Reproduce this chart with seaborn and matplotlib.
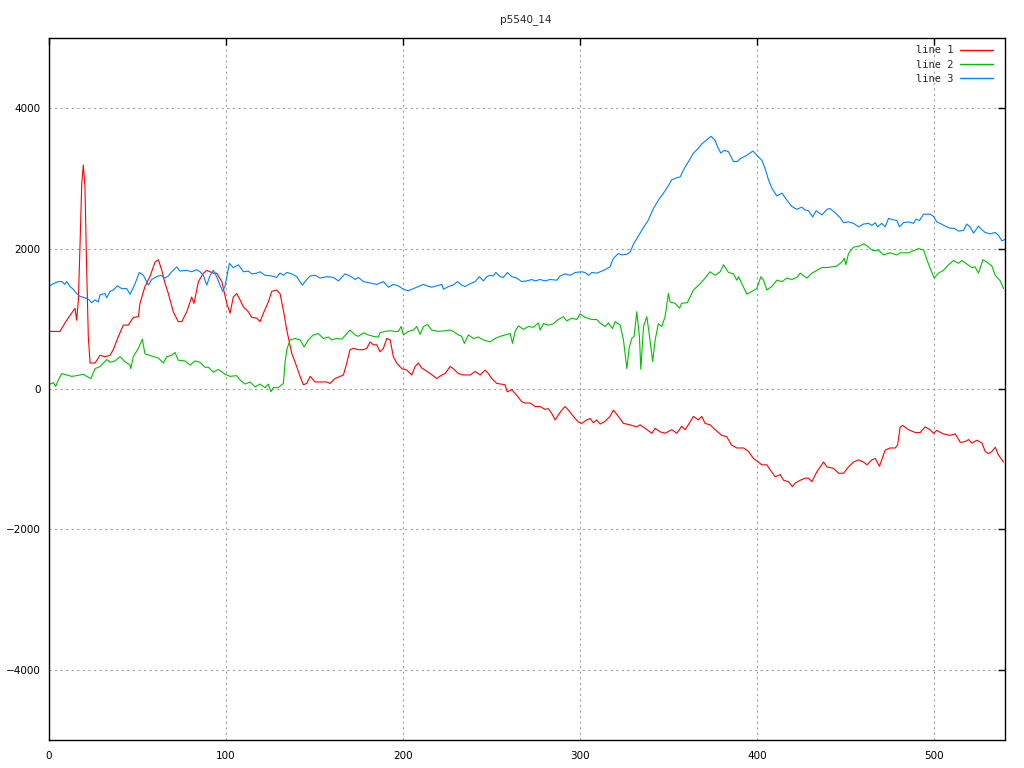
import numpy as np
import pandas as pd
import matplotlib
matplotlib.use("Agg")
import matplotlib.pyplot as plt
import seaborn as sns

title = "p5540_14"
series_names = ["line 1", "line 2", "line 3"]
series_colors = ["#ff0000", "#00c000", "#0080ff"]
x_ticks = [0, 100, 200, 300, 400, 500]
y_ticks = [-4000, -2000, 0, 2000, 4000]

# line 1 (red)
x1 = [0.6, 6.2, 9, 11.9, 14.7, 15.6, 16.6, 17.5, 18.5, 19.4, 20.3, 21.3, 22.2, 23.2, 26, 28.8, 31.6, 34.5,
      36.3, 39.2, 42, 44.8, 47.6, 50.5, 51.4, 54.2, 57, 59.9, 61.8, 63.7, 65.5, 67.4, 70.2, 73, 75, 77.8,
      80.6, 81.9, 84.4, 87.2, 89.1, 92.8, 94.7, 97.6, 100.4, 102.3, 104.1, 106, 107.9, 109.8, 112.6, 114.5,
      117.3, 119.2, 121.1, 123.9, 125.8, 128.6, 130.5, 132.4, 134.3, 137.1, 139.9, 141.8, 143.7, 145.6,
      147.5, 150.3, 153.1, 156.9, 158.8, 161.6, 164.4, 166.3, 168.2, 170, 171.9, 174.7, 177.6, 179.5,
      181.4, 183.2, 185.1, 187, 188.9, 190.8, 192.7, 194.5, 196.4, 199.3, 202.1, 204.9, 206.8, 208.6,
      210.6, 212.4, 215.3, 219, 221.9, 223.7, 226.6, 228.4, 231.2, 234.1, 237.9, 240.7, 243.5, 246.3,
      248.2, 250.1, 252.9, 257.6, 258.9, 261.4, 264.2, 267, 268.9, 271.8, 274.6, 277.4, 280.2, 282.1,
      284, 285.9, 287.7, 289.7, 291.5, 293.4, 296.2, 299, 300.9, 303.8, 305.6, 307.5, 309.4, 311.3,
      314.1, 316.9, 318.8, 321.6, 324.5, 328.2, 332, 333.9, 336.7, 340.5, 342.4, 345.2, 348, 351.8,
      354.6, 357.4, 359.3, 362.1, 364, 366.8, 368.7, 370.6, 373.4, 376.3, 380, 382.8, 385.6, 388.5,
      392.3, 395.1, 397.9, 400.7, 402.6, 405.5, 407.3, 410.2, 413, 414.9, 417.7, 419.9, 421.5, 424.3,
      427.1, 429, 430.9, 433.7, 437.5, 439.4, 443.1, 446, 448.8, 451.6, 454.4, 457.3, 460.1, 462, 464.8,
      466.7, 469.1, 472.3, 475.1, 478, 479.3, 480.8, 482.3, 485.5, 489.3, 492.1, 494.9, 497.7, 499.6,
      501.5, 505.2, 509, 511.9, 514.7, 517.5, 519.4, 521.3, 524.1, 527, 528.8, 530.7, 532.6, 534.5,
      536.3, 539.2]
y1 = [820, 820, 940, 1050, 1150, 980, 1270, 2030, 2930, 3190, 2880, 1690, 750, 370, 370, 480, 460, 480,
      560, 750, 910, 910, 1020, 1030, 1220, 1460, 1600, 1810, 1840, 1690, 1510, 1360, 1100, 960, 960, 1100,
      1310, 1220, 1530, 1650, 1690, 1650, 1650, 1530, 1220, 1080, 1310, 1360, 1270, 1170, 1100, 1020,
      1010, 960, 1080, 1240, 1390, 1410, 1360, 1120, 840, 510, 320, 180, 60, 80,
      180, 100, 100, 100, 80, 150, 180, 200, 370, 560, 580, 560, 560, 580,
      670, 630, 630, 530, 580, 720, 700, 460, 370, 290, 270, 200, 320, 370,
      300, 270, 220, 150, 200, 220, 320, 290, 220, 200, 200, 250, 200, 270,
      220, 150, 80, 60, -40, -10, -90, -180, -200, -200, -250, -250, -290, -280,
      -350, -440, -370, -300, -250, -300, -390, -470, -490, -440, -420, -480, -440, -500,
      -460, -390, -300, -390, -490, -510, -540, -510, -560, -630, -560, -610, -630, -580,
      -630, -530, -580, -470, -390, -440, -390, -490, -510, -580, -660, -680, -800, -840,
      -840, -890, -990, -1040, -1080, -1080, -1150, -1250, -1220, -1300, -1320, -1390, -1340, -1300,
      -1270, -1270, -1320, -1180, -1040, -1110, -1130, -1200, -1200, -1110, -1040, -1010, -1040, -1080, -1010,
      -990, -1100, -870, -840, -840, -800, -540, -520, -580, -620, -620, -540, -580, -630,
      -590, -640, -660, -640, -760, -750, -720, -770, -730, -770, -890, -920, -890, -830,
      -940, -1040]

# line 2 (green)
x2 = [0.6, 2.4, 3.8, 5.3, 7.2, 10, 12.8, 15.6, 19.4, 21.3, 23.7, 26, 28.8, 30.7, 32.6, 34.5, 37.3, 40.1,
      42.9, 45.8, 46.2, 47.6, 50.5, 52.7, 54.2, 58, 61.8, 64.6, 66.5, 69.3, 71.2, 73, 76.8, 79.7, 82.5,
      85.3, 88.1, 90, 92.8, 95.6, 99.4, 102.3, 106, 107.9, 110.7, 113.6, 116.4, 119.2, 122, 123.9, 125.3,
      126.7, 129.5, 132.4, 133.3, 134.3, 136.2, 139, 141.8, 144.1, 146.5, 149.3, 152.1, 155, 157.8, 159.7,
      162.5, 165.4, 168.2, 170, 172.9, 174.7, 177.6, 180.4, 183.2, 186, 187, 189.8, 192.7, 195.5, 197.3,
      198.9, 200.2, 203, 205.8, 207.7, 209.6, 211.5, 213.7, 216.2, 219.9, 223.7, 226.6, 228.4, 231.2,
      233.1, 234.6, 236.9, 239.7, 242.5, 245.4, 249.2, 252, 254.8, 257.6, 260.5, 261.8, 263.3, 265.1, 268,
      270.8, 273.6, 276.4, 277.4, 279.3, 282.1, 284.9, 287.7, 290.6, 292.5, 295.3, 298.1, 300, 302.8,
      306.6, 309.4, 311.3, 314.1, 316, 318.3, 319.8, 322.6, 324.5, 326.4, 327.8, 329.2, 330.5, 332,
      333.5, 334.3, 335.8, 337.7, 339.2, 341, 342.4, 344.2, 346.1, 348, 349.9, 350.8, 353.7, 356.1,
      357.4, 360.6, 364, 367.8, 370.6, 373.4, 376.3, 379.1, 381, 383.8, 386.6, 388.5, 389.5, 391.4,
      394.2, 397, 399.8, 402.1, 403.6, 405.5, 408.3, 411.1, 414, 416.8, 419.6, 422.4, 424.3, 428.1,
      430.9, 433.7, 436.6, 439.4, 442.2, 445, 447.8, 449.2, 450.1, 451.6, 454.4, 458.2, 460.1, 462,
      463.8, 465.7, 468.5, 471.4, 475.1, 478.9, 480.8, 485.5, 489.3, 491.2, 494, 495.9, 497.7, 500,
      502.4, 505.2, 508.1, 510.9, 513.7, 515.6, 518.4, 521.3, 523.1, 525, 527.5, 529.7, 532.6, 534.5,
      537.3, 539.2]
y2 = [70, 90, 40, 130, 220, 200, 180, 190, 210, 180, 150, 290, 320, 370, 420, 380, 400, 460,
      390, 340, 290, 460, 580, 710, 500, 470, 440, 370, 460, 480, 520, 410, 400, 340, 400,
      380, 310, 310, 240, 280, 210, 180, 190, 130, 70, 100, 30, 70, 20, 70, -40,
      20, 20, 80, 370, 560, 700, 720, 700, 600, 700, 770, 790, 720, 740, 700,
      720, 710, 790, 840, 770, 750, 800, 770, 750, 740, 800, 820, 830, 820, 820,
      890, 770, 820, 840, 890, 780, 890, 920, 840, 820, 830, 840, 820, 770,
      750, 650, 770, 720, 740, 700, 670, 720, 750, 770, 790, 650, 820, 900, 850,
      890, 880, 940, 840, 930, 910, 930, 990, 1030, 970, 1010, 990, 1070, 1020,
      990, 990, 940, 890, 940, 860, 960, 910, 700, 290, 600, 720, 750, 1100,
      750, 280, 890, 1030, 750, 390, 700, 930, 890, 1030, 1360, 1240, 1220, 1150,
      1220, 1230, 1410, 1500, 1580, 1670, 1620, 1670, 1770, 1660, 1640, 1550, 1600, 1500,
      1350, 1390, 1430, 1600, 1550, 1410, 1460, 1550, 1530, 1580, 1560, 1590, 1650, 1580,
      1650, 1690, 1730, 1730, 1740, 1750, 1810, 1860, 1770, 1930, 2020, 2040, 2070, 2040,
      2000, 1970, 1980, 1910, 1940, 1910, 1940, 1940, 1980, 2000, 1980, 1840, 1720, 1580,
      1650, 1690, 1770, 1830, 1790, 1830, 1780, 1730, 1740, 1650, 1840, 1810, 1750, 1620,
      1540, 1430]

# line 3 (blue)
x3 = [0.6, 2.4, 5.3, 7.2, 9, 10, 11.9, 13.7, 15.6, 17.5, 20.3, 22.2, 24.1, 26, 27.8, 28.8, 31.6, 32.6,
      34.5, 36.3, 38.6, 41.1, 43.9, 45.8, 48.6, 51, 53.3, 56.1, 58, 60.8, 63.1, 65.5, 67.4, 69.3, 72.1,
      74, 77.8, 80.6, 83.4, 85.3, 87.2, 89.1, 91, 92.8, 94.7, 96.6, 98.1, 99.4, 101.9, 104.1, 107, 109.8,
      112.6, 114.5, 117.3, 119.2, 122, 125.8, 128.6, 130.5, 132.4, 134.3, 137.1, 139.9, 141.8, 143.1,
      145.6, 147.5, 150.3, 153.1, 156.9, 160.6, 163.5, 167.2, 170, 172.9, 174.7, 177.6, 181.4, 185.1,
      188.9, 191.7, 194.5, 197.3, 200.2, 203, 205.8, 209.6, 211.5, 213.4, 216.2, 219, 221.9, 222.8,
      225.6, 228.4, 230.7, 233.1, 235, 237.9, 240.7, 243.1, 245.4, 247.3, 249.2, 251, 252.4, 254.8,
      256.7, 258.9, 261.4, 264.2, 267, 269.9, 272.7, 274.6, 277.4, 280.2, 283.1, 286.8, 288.7, 291.5,
      294.4, 297.2, 300.9, 302.8, 304.7, 306.6, 309.4, 312.3, 314.1, 316.9, 318.8, 321.6, 323.5, 326.4,
      328.2, 330.1, 332.9, 335.8, 338.6, 341.4, 344.2, 347.1, 349.9, 351.8, 354.6, 356.5, 358.4, 361.2,
      364, 366.8, 368.7, 371.6, 374, 376.3, 377.6, 379.5, 381.4, 383.8, 386.6, 388.9, 390.4, 394.2,
      397.6, 399.8, 402.6, 404.5, 406.4, 408.3, 411.1, 414, 416.8, 419.6, 422.4, 425.2, 427.1, 429,
      431.4, 433.3, 436.6, 439.4, 441.2, 444.1, 446.9, 448.8, 451.6, 454.4, 457.3, 460.1, 462.9, 464.8,
      466.7, 468, 470.4, 472.3, 474.2, 477, 478.9, 480.4, 482.7, 485.5, 488.3, 489.8, 491.7, 494,
      497.7, 499.6, 501.5, 503.4, 506.2, 509, 511.3, 513.7, 516.6, 518.4, 520.3, 522.2, 525, 526.9,
      528.8, 531.6, 534.5, 536.3, 538.2, 540]
y3 = [1470, 1500, 1530, 1530, 1490, 1530, 1460, 1420, 1360, 1320, 1300, 1280, 1230, 1270, 1240, 1340, 1360, 1300,
      1390, 1410, 1470, 1430, 1430, 1350, 1500, 1660, 1620, 1480, 1560, 1600, 1620, 1580, 1610, 1670, 1740,
      1680, 1690, 1670, 1700, 1670, 1620, 1480, 1620, 1690, 1600, 1480, 1390, 1460, 1790, 1730, 1770, 1670,
      1680, 1640, 1650, 1670, 1620, 1610, 1590, 1650, 1620, 1660, 1640, 1600, 1530, 1480,
      1560, 1610, 1620, 1580, 1600, 1590, 1540, 1640, 1610, 1560, 1590, 1530, 1510, 1490,
      1530, 1450, 1490, 1470, 1420, 1400, 1430, 1470, 1490, 1470, 1450, 1470, 1490, 1420,
      1460, 1480, 1530, 1480, 1460, 1500, 1530, 1600, 1540, 1600, 1620, 1610, 1660, 1600,
      1590, 1660, 1600, 1580, 1530, 1540, 1560, 1540, 1560, 1540, 1560, 1550, 1610, 1640,
      1620, 1660, 1670, 1660, 1620, 1660, 1650, 1680, 1700, 1740, 1860, 1930, 1910, 1920,
      1950, 2060, 2180, 2300, 2410, 2570, 2690, 2790, 2900, 2980, 3010, 3020, 3120, 3240,
      3360, 3430, 3490, 3550, 3600, 3540, 3450, 3360, 3400, 3380, 3240, 3240, 3280, 3330,
      3390, 3330, 3260, 3140, 2980, 2860, 2750, 2790, 2690, 2600, 2560, 2590, 2550, 2540,
      2450, 2540, 2480, 2560, 2570, 2510, 2440, 2370, 2380, 2360, 2310, 2350, 2360, 2330,
      2370, 2310, 2360, 2310, 2430, 2410, 2400, 2310, 2370, 2380, 2360, 2420, 2400, 2490,
      2490, 2460, 2380, 2360, 2320, 2290, 2290, 2250, 2260, 2350, 2310, 2220, 2320, 2270,
      2230, 2210, 2230, 2190, 2110, 2130]

frames = []
for name, xs, ys in zip(series_names, [x1, x2, x3], [y1, y2, y3]):
    frames.append(pd.DataFrame({"x": xs, "y": ys, "series": name}))
df = pd.concat(frames, ignore_index=True)

sns.set_style("white")
plt.rcParams["font.family"] = ["DejaVu Sans"]

fig = plt.figure(figsize=(10.24, 7.68), dpi=100)
ax = fig.add_axes([49 / 1024, 1 - 740 / 768, (1005 - 49) / 1024, (740 - 38) / 768])

sns.lineplot(data=df, x="x", y="y", hue="series", palette=dict(zip(series_names, series_colors)),
             estimator=None, sort=False, linewidth=0.8, ax=ax, legend=True)

ax.set_xlim(0, 540)
ax.set_ylim(-5000, 5000)
ax.set_xticks(x_ticks)
ax.set_yticks(y_ticks)
ax.set_xlabel("")
ax.set_ylabel("")
ax.grid(True, color="#a0a0a0", linestyle=(0, (2, 3)), linewidth=0.8)
ax.tick_params(direction="in", length=5, width=1, top=True, right=True, labelsize=7.5, colors="black")
ax.tick_params(axis="x", pad=8)
ax.tick_params(axis="y", pad=6)
for sp in ax.spines.values():
    sp.set_color("black")
    sp.set_linewidth(1)
    sp.set_visible(True)

fig.text(526 / 1024, 1 - 20 / 768, title, ha="center", va="center", fontsize=7.5)

leg = ax.legend(loc="upper right", frameon=False, markerfirst=False,
                prop={"family": "DejaVu Sans Mono", "size": 7.5},
                handlelength=3.2, handletextpad=0.6, labelspacing=0.42,
                borderaxespad=0.3, bbox_to_anchor=(0.995, 1.0))
for h in leg.get_lines():
    h.set_linewidth(1.0)

fig.savefig("out.png", dpi=100)
